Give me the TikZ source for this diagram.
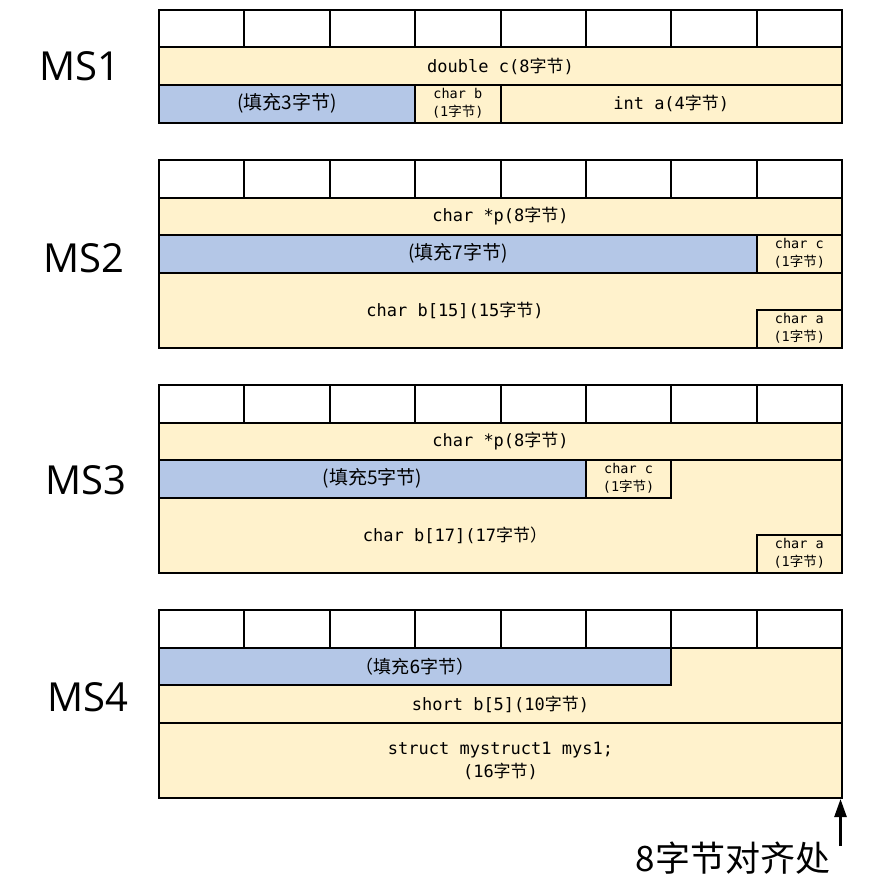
\documentclass[tikz,border=0pt]{standalone}
\usepackage{fontspec}
\setmonofont{DejaVu Sans Mono}
\newfontfamily\cjk{Noto Sans CJK SC}
\newfontfamily\labfont{Open Sans}
\usetikzlibrary{arrows.meta}
\definecolor{beige}{HTML}{FFF2CC}
\definecolor{lblue}{HTML}{B4C7E7}
\newcommand\zjie{{\cjk 字节}}
\tikzset{
  hdr/.style={draw=black, line width=2pt, fill=white},
  yel/.style={draw=black, line width=2pt, fill=beige},
  blu/.style={draw=black, line width=2pt, fill=lblue},
  mono/.style={font=\fontsize{17}{23}\selectfont\ttfamily, align=center, inner sep=0pt},
  small/.style={font=\fontsize{13.5}{18}\selectfont\ttfamily, align=center, inner sep=0pt},
  filltxt/.style={font=\fontsize{19}{20}\selectfont\cjk, inner sep=0pt},
  mslab/.style={font=\fontsize{40}{44}\selectfont\labfont, inner sep=0pt},
}
\begin{document}
\begin{tikzpicture}[x=1pt,y=-1pt]
\useasboundingbox (0,0) rectangle (893,891);
% ---------- MS1 ----------
\foreach \i in {0,...,7} \draw[hdr] ({159+85.375*\i},10) rectangle ++(85.375,37.5);
\draw[yel] (159,47.5) rectangle (842,85);
\draw[blu] (159,85) rectangle (415.125,122.5);
\draw[yel] (415.125,85) rectangle (500.5,122.5);
\draw[yel] (500.5,85) rectangle (842,122.5);
\node[mono] (t1a) at (500.5,66.25) {double c(8\zjie)};
\node[filltxt] (t1b) at (287,103.75) {(填充3字节)};
\node[small] (t1c) at (457.8,103.75) {char b\\(1\zjie)};
\node[mono] (t1d) at (671.25,103.75) {int a(4\zjie)};
\node[mslab] (ms1) at (80,66) {MS1};
% ---------- MS2 ----------
\foreach \i in {0,...,7} \draw[hdr] ({159+85.375*\i},160) rectangle ++(85.375,37.5);
\draw[yel] (159,197.5) rectangle (842,235);
\draw[blu] (159,235) rectangle (756.625,272.5);
\draw[yel] (756.625,235) rectangle (842,272.5);
\draw[yel] (159,272.5) rectangle (842,347.5);
\draw[yel] (756.625,310) rectangle (842,347.5);
\node[mono] (t2a) at (500.5,216.25) {char *p(8\zjie)};
\node[filltxt] (t2b) at (458,253.75) {(填充7字节)};
\node[small] (t2c) at (799.3,253.75) {char c\\(1\zjie)};
\node[mono] (t2d) at (455,310) {char b[15](15\zjie)};
\node[small] (t2e) at (799.3,328.75) {char a\\(1\zjie)};
\node[mslab] (ms2) at (84,258) {MS2};
% ---------- MS3 ----------
\foreach \i in {0,...,7} \draw[hdr] ({159+85.375*\i},385) rectangle ++(85.375,37.5);
\draw[yel] (159,422.5) rectangle (842,460);
\draw[yel] (671.25,460) -- (842,460) -- (842,572.5) -- (159,572.5) -- (159,497.5) -- (671.25,497.5) -- cycle;
\draw[blu] (159,460) rectangle (585.875,497.5);
\draw[yel] (585.875,460) rectangle (671.25,497.5);
\draw[yel] (756.625,535) rectangle (842,572.5);
\node[mono] (t3a) at (500.5,441.25) {char *p(8\zjie)};
\node[filltxt] (t3b) at (372.4,478.75) {(填充5字节)};
\node[small] (t3c) at (628.6,478.75) {char c\\(1\zjie)};
\node[mono] (t3d) at (455,535) {char b[17](17{\cjk 字节）}};
\node[small] (t3e) at (799.3,553.75) {char a\\(1\zjie)};
\node[mslab] (ms3) at (86,480) {MS3};
% ---------- MS4 ----------
\foreach \i in {0,...,7} \draw[hdr] ({159+85.375*\i},610) rectangle ++(85.375,37.5);
\draw[yel] (671.25,647.5) -- (842,647.5) -- (842,722.5) -- (159,722.5) -- (159,685) -- (671.25,685) -- cycle;
\draw[blu] (159,647.5) rectangle (671.25,685);
\draw[yel] (159,722.5) rectangle (842,797.5);
\node[mono, font=\fontsize{18}{20}\selectfont\ttfamily] (t4a) at (415,666.25) {{\cjk （填充}6{\cjk 字节）}};
\node[mono] (t4b) at (500.5,704) {short b[5](10\zjie)};
\node[mono] (t4c) at (500.5,760.5) {struct mystruct1 mys1;\\(16\zjie)};
\node[mslab] (ms4) at (88,697) {MS4};
% ---------- alignment mark ----------
\node[font=\fontsize{35}{40}\selectfont\cjk, inner sep=0pt] (align) at (733,858) {8字节对齐处};
\coordinate (arrS) at (840.5,846);
\coordinate (arrE) at (840.5,799);
\draw[line width=2.5pt, -{Triangle[length=18pt,width=12pt]}] (arrS) -- (arrE);
\end{tikzpicture}
\end{document}
